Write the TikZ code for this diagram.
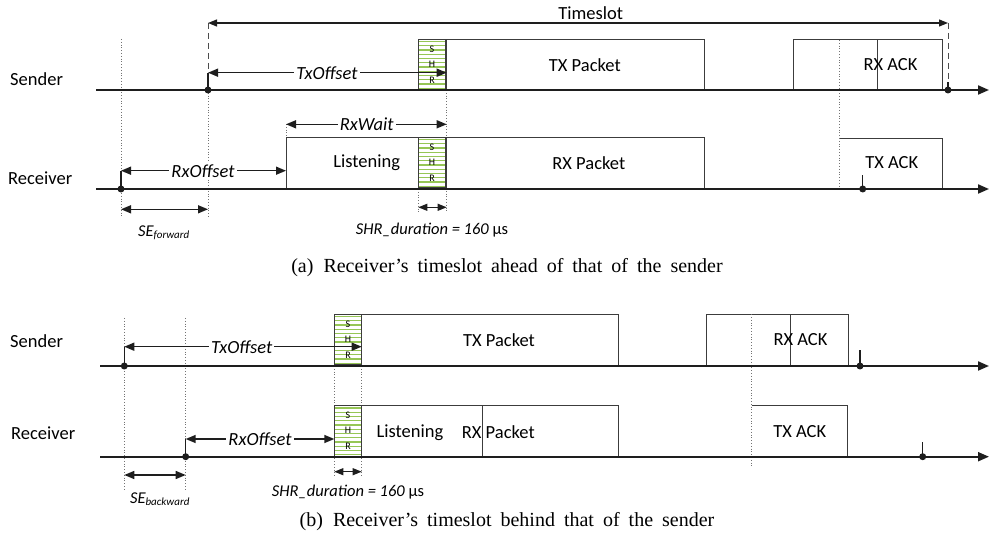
\documentclass[tikz,border=0pt]{standalone}
\usepackage{fontspec}
\setmainfont{Liberation Serif}
\newfontfamily\carl{Carlito}
\usetikzlibrary{arrows.meta}
\definecolor{shrgreen}{RGB}{150,198,85}
\definecolor{ink}{RGB}{30,30,30}
\definecolor{boxline}{RGB}{60,60,60}
\newcommand{\capfont}{\fontsize{20}{22}\selectfont\spaceskip=9pt plus 1pt minus 1pt\relax}
\begin{document}
\begin{tikzpicture}[x=1pt,y=-1pt,
  timeaxis/.style={line width=2pt, draw=ink, -{Triangle[length=11pt,width=9pt]}},
  dimarrow/.style={line width=1.5pt, draw=ink, {Triangle[length=10pt,width=8pt]}-{Triangle[length=10pt,width=8pt]}},
  thindim/.style={line width=1.2pt, draw=ink, {Triangle[length=9pt,width=7pt]}-{Triangle[length=9pt,width=7pt]}},
  guide/.style={line width=0.8pt, draw=black!55, dotted},
  slotedge/.style={line width=1pt, draw=black!70, dash pattern=on 6pt off 4pt},
  pktbox/.style={line width=1pt, draw=boxline},
  lbl/.style={font=\carl\fontsize{18.5}{20}\selectfont, inner sep=1pt},
  ilbl/.style={font=\carl\itshape\fontsize{18.5}{20}\selectfont, fill=white, inner sep=2pt},
  rowlbl/.style={font=\carl\fontsize{18.5}{20}\selectfont, anchor=west, inner sep=0pt},
  shrl/.style={font=\carl\fontsize{10}{11}\selectfont, inner sep=0pt},
  selbl/.style={font=\carl\itshape\fontsize{16.5}{18}\selectfont, inner sep=0pt},
  captext/.style={inner sep=0pt},
  tickdot/.style={circle, fill=ink, inner sep=0pt, minimum size=7pt},
]
\useasboundingbox (0,0) rectangle (989,548);

% SHR box pic (y axis points down)
\tikzset{shrbox/.pic={
  \fill[white] (0,0) rectangle (27.4,50.7);
  \foreach \k in {0,...,11} { \draw[shrgreen, line width=1.2pt] (0,2.2+\k*4.25) -- (27.4,2.2+\k*4.25); }
  \draw[pktbox] (0,0) rectangle (27.4,50.7);
  \node[shrl] at (13.7,10) {S};
  \node[shrl] at (13.7,24.5) {H};
  \node[shrl] at (13.7,41) {R};
}}

% ================= Panel (a) =================
\node[rowlbl] (sendA) at (10,79) {Sender};
\node[rowlbl] (recvA) at (8,178) {Receiver};

% guides
\draw[guide] (121,39) -- (121,218);
\draw[guide] (208,90) -- (208,218);
\draw[guide] (286,124) -- (286,189);
\draw[guide] (418.3,189) -- (418.3,212);
\draw[guide] (446.7,90) -- (446.7,212);
\draw[slotedge] (208,23) -- (208,90);
\draw[slotedge] (948,23) -- (948,90);

% boxes sender a
\pic at (418.3,39.3) {shrbox};
\draw[pktbox] (446.7,39.3) rectangle (704.3,90);
\node[lbl] (txpA) at (584.8,65) {TX Packet};
\draw[pktbox] (793.7,40) rectangle (942.3,90);
\draw[pktbox] (877.7,40) -- (877.7,90);
\node[lbl] (rxackA) at (890.5,65) {RX ACK};

% boxes receiver a
\draw[pktbox] (286,137.3) rectangle (418.3,189);
\node[lbl] (lstA) at (366.7,163) {Listening};
\pic at (418.3,137.3) {shrbox};
\draw[pktbox] (446.7,137.3) rectangle (704.3,189);
\node[lbl] (rxpA) at (588.8,163) {RX Packet};
\draw[pktbox] (839.3,138.3) -- (942.3,138.3) -- (942.3,189);
\node[lbl] (txackA) at (891.7,163) {TX ACK};
\draw[guide] (839.3,40) -- (839.3,189);

% axes a
\coordinate (sa0) at (96,90); \coordinate (sa1) at (989,90);
\coordinate (ra0) at (96,189); \coordinate (ra1) at (989,189);
\draw[timeaxis] (sa0) -- (sa1);
\draw[timeaxis] (ra0) -- (ra1);

% ticks a
\node[tickdot] (dA1) at (208,90) {};
\draw[line width=1.5pt, ink] (dA1.center) -- (208,72.7);
\node[tickdot] (dA2) at (948,90) {};
\draw[line width=1.5pt, ink] (dA2.center) -- (948,82);
\node[tickdot] (dA3) at (121,189) {};
\draw[line width=1.5pt, ink] (dA3.center) -- (121,170.7);
\node[tickdot] (dA4) at (862.7,189) {};
\draw[line width=1.5pt, ink] (dA4.center) -- (862.7,175);

% dimension arrows a
\coordinate (tsL) at (208,23); \coordinate (tsR) at (948,23);
\draw[thindim] (tsL) -- (tsR);
\node[lbl] (tsLbl) at (590.8,13) {Timeslot};

\coordinate (txoL) at (208,72.7); \coordinate (txoR) at (446.7,72.7);
\draw[dimarrow] (txoL) -- (txoR);
\node[ilbl] (txoLbl) at (327,72.7) {TxOffset};

\coordinate (rwL) at (286,124.3); \coordinate (rwR) at (446.7,124.3);
\draw[dimarrow] (rwL) -- (rwR);
\node[ilbl] (rwLbl) at (366.7,124.3) {RxWait};

\coordinate (rxoL) at (121,170.7); \coordinate (rxoR) at (286,170.7);
\draw[dimarrow] (rxoL) -- (rxoR);
\node[ilbl] (rxoLbl) at (203,170.7) {RxOffset};

\coordinate (sefL) at (121,209.3); \coordinate (sefR) at (208,209.3);
\draw[dimarrow] (sefL) -- (sefR);
\node[selbl] (sefLbl) at (164,233) {SE\textsubscript{\fontsize{11}{12}\selectfont forward}};

\coordinate (shrdL) at (418.3,207.3); \coordinate (shrdR) at (446.7,207.3);
\draw[thindim] (shrdL) -- (shrdR);
\node[selbl] (shrdLbl) at (432,230) {SHR\_duration = 160 {\upshape µs}};

\node[captext] (capA) at (507,268) {\capfont (a)\hspace{10pt}Receiver's timeslot ahead of that of the sender};

% ================= Panel (b) =================
\node[rowlbl] (sendB) at (10,341) {Sender};
\node[rowlbl] (recvB) at (11,433) {Receiver};

\draw[guide] (124.3,318) -- (124.3,490);
\draw[guide] (185.7,318) -- (185.7,490);
\draw[guide] (334.3,366) -- (334.3,476);
\draw[guide] (361.7,366) -- (361.7,476);

% boxes sender b
\pic at (334.3,314.3) {shrbox};
\draw[pktbox] (361.7,314.3) rectangle (618.3,366);
\node[lbl] (txpB) at (499,340) {TX Packet};
\draw[pktbox] (706.7,314.3) rectangle (848.3,366);
\draw[pktbox] (790.3,314.3) -- (790.3,366);
\node[lbl] (rxackB) at (800.5,340) {RX ACK};

% boxes receiver b
\pic at (334.3,405.7) {shrbox};
\draw[pktbox] (361.7,405.7) rectangle (618.3,456.7);
\draw[pktbox] (482.3,405.7) -- (482.3,456.7);
\node[lbl] (lstB) at (410,432.3) {Listening};
\node[lbl] (rxpB) at (498.3,432.3) {RX Packet};
\draw[pktbox] (751.7,405.7) -- (847.7,405.7) -- (847.7,456.7);
\node[lbl] (txackB) at (799.7,432) {TX ACK};
\draw[guide] (751.7,314.3) -- (751.7,467);

% axes b
\coordinate (sb0) at (100,366); \coordinate (sb1) at (989,366);
\coordinate (rb0) at (100,456.7); \coordinate (rb1) at (989,456.7);
\draw[timeaxis] (sb0) -- (sb1);
\draw[timeaxis] (rb0) -- (rb1);

% ticks b
\node[tickdot] (dB1) at (124.3,366) {};
\draw[line width=1.5pt, ink] (dB1.center) -- (124.3,346.7);
\node[tickdot] (dB2) at (860,366) {};
\draw[line width=1.5pt, ink] (dB2.center) -- (860,350);
\node[tickdot] (dB3) at (185.7,456.7) {};
\draw[line width=1.5pt, ink] (dB3.center) -- (185.7,439);
\node[tickdot] (dB4) at (922.7,456.7) {};
\draw[line width=1.5pt, ink] (dB4.center) -- (922.7,441.7);

% dimension arrows b
\coordinate (txoLb) at (124.3,346.7); \coordinate (txoRb) at (361.7,346.7);
\draw[dimarrow] (txoLb) -- (txoRb);
\node[ilbl] (txoLblB) at (241.7,346.7) {TxOffset};

\coordinate (rxoLb) at (185.7,439); \coordinate (rxoRb) at (334.3,439);
\draw[dimarrow] (rxoLb) -- (rxoRb);
\node[ilbl] (rxoLblB) at (260,439) {RxOffset};

\coordinate (sebL) at (124.3,475); \coordinate (sebR) at (185.7,475);
\draw[dimarrow] (sebL) -- (sebR);
\node[selbl] (sebLbl) at (160,499) {SE\textsubscript{\fontsize{11}{12}\selectfont backward}};

\coordinate (shrdLb) at (334.3,471.7); \coordinate (shrdRb) at (361.7,471.7);
\draw[thindim] (shrdLb) -- (shrdRb);
\node[selbl] (shrdLblB) at (348,491.7) {SHR\_duration = 160 {\upshape µs}};

\node[captext] (capB) at (507,522) {\capfont (b)\hspace{10pt}Receiver's timeslot behind that of the sender};
\end{tikzpicture}
\end{document}
